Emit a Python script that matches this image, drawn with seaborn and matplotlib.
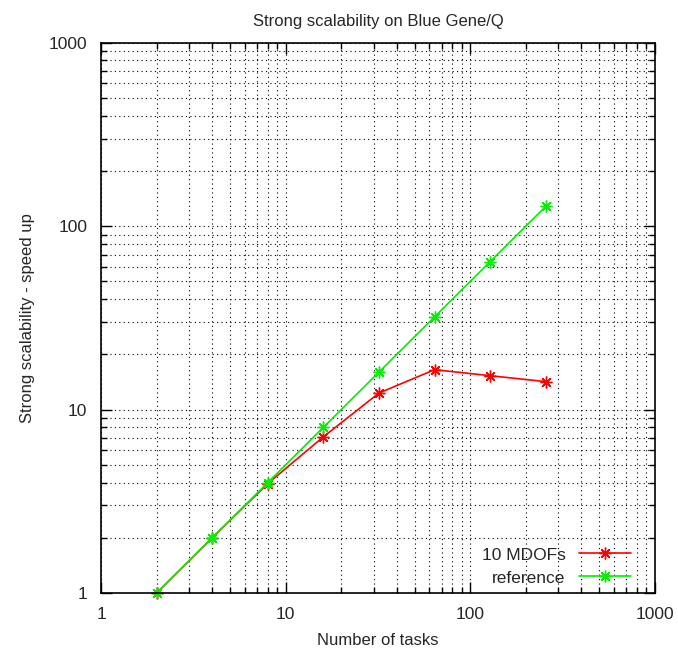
import pandas as pd
import numpy as np
import matplotlib
matplotlib.use("Agg")
import matplotlib.pyplot as plt
import matplotlib.ticker as mticker
import seaborn as sns

# ---- data ----
tasks = [2, 4, 8, 16, 32, 64, 128, 256]
speedup_mdofs = [1.0, 2.0, 3.95, 7.1, 12.3, 16.5, 15.3, 14.2]
speedup_ref = [1, 2, 4, 8, 16, 32, 64, 128]
series_names = ["10 MDOFs", "reference"]
series_colors = ["#ff0000", "#00f000"]

df = pd.DataFrame({
    "tasks": tasks * 2,
    "speedup": speedup_mdofs + speedup_ref,
    "series": [series_names[0]] * len(tasks) + [series_names[1]] * len(tasks),
})

sns.set_style("ticks")
plt.rcParams["font.family"] = ["Liberation Sans", "DejaVu Sans"]
plt.rcParams["font.size"] = 12

fig = plt.figure(figsize=(6.78, 6.52), dpi=100)
ax = fig.add_axes([0.149, 0.0905, 0.817, 0.844])

# one call per series so the asterisk markers keep the line colour
for name, col in zip(series_names, series_colors):
    sns.lineplot(data=df[df["series"] == name], x="tasks", y="speedup",
                 color=col, label=name,
                 marker=(8, 2, 0), markersize=8.5, markeredgewidth=1.0,
                 markeredgecolor=col, linewidth=1.2, clip_on=False, ax=ax)

ax.set_xscale("log")
ax.set_yscale("log")
ax.set_xlim(1, 1000)
ax.set_ylim(1, 1000)

fmt = mticker.FuncFormatter(lambda v, p: f"{v:g}")
ax.xaxis.set_major_formatter(fmt)
ax.yaxis.set_major_formatter(fmt)
ax.xaxis.set_minor_formatter(mticker.NullFormatter())
ax.yaxis.set_minor_formatter(mticker.NullFormatter())

ax.grid(True, which="both", color="black", linestyle=(0, (1, 3)), linewidth=0.8)
ax.set_axisbelow(True)
ax.tick_params(which="both", direction="in", top=True, right=True, color="black")
ax.tick_params(which="major", length=8, width=1, labelsize=12.5, pad=10)
ax.tick_params(which="minor", length=4, width=1)
for s in ax.spines.values():
    s.set_linewidth(1.2)
    s.set_color("black")

ax.set_title("Strong scalability on Blue Gene/Q", fontsize=12, pad=12)
ax.set_xlabel("Number of tasks", fontsize=12, labelpad=8)
ax.set_ylabel("Strong scalability - speed up", fontsize=12, labelpad=10)

ax.legend(loc="lower right", bbox_to_anchor=(0.989, -0.018), frameon=False,
          markerfirst=False, handlelength=3.0, fontsize=12.5,
          borderaxespad=0.6, handletextpad=0.8, labelspacing=0.45)

fig.savefig("out.png", dpi=100)
